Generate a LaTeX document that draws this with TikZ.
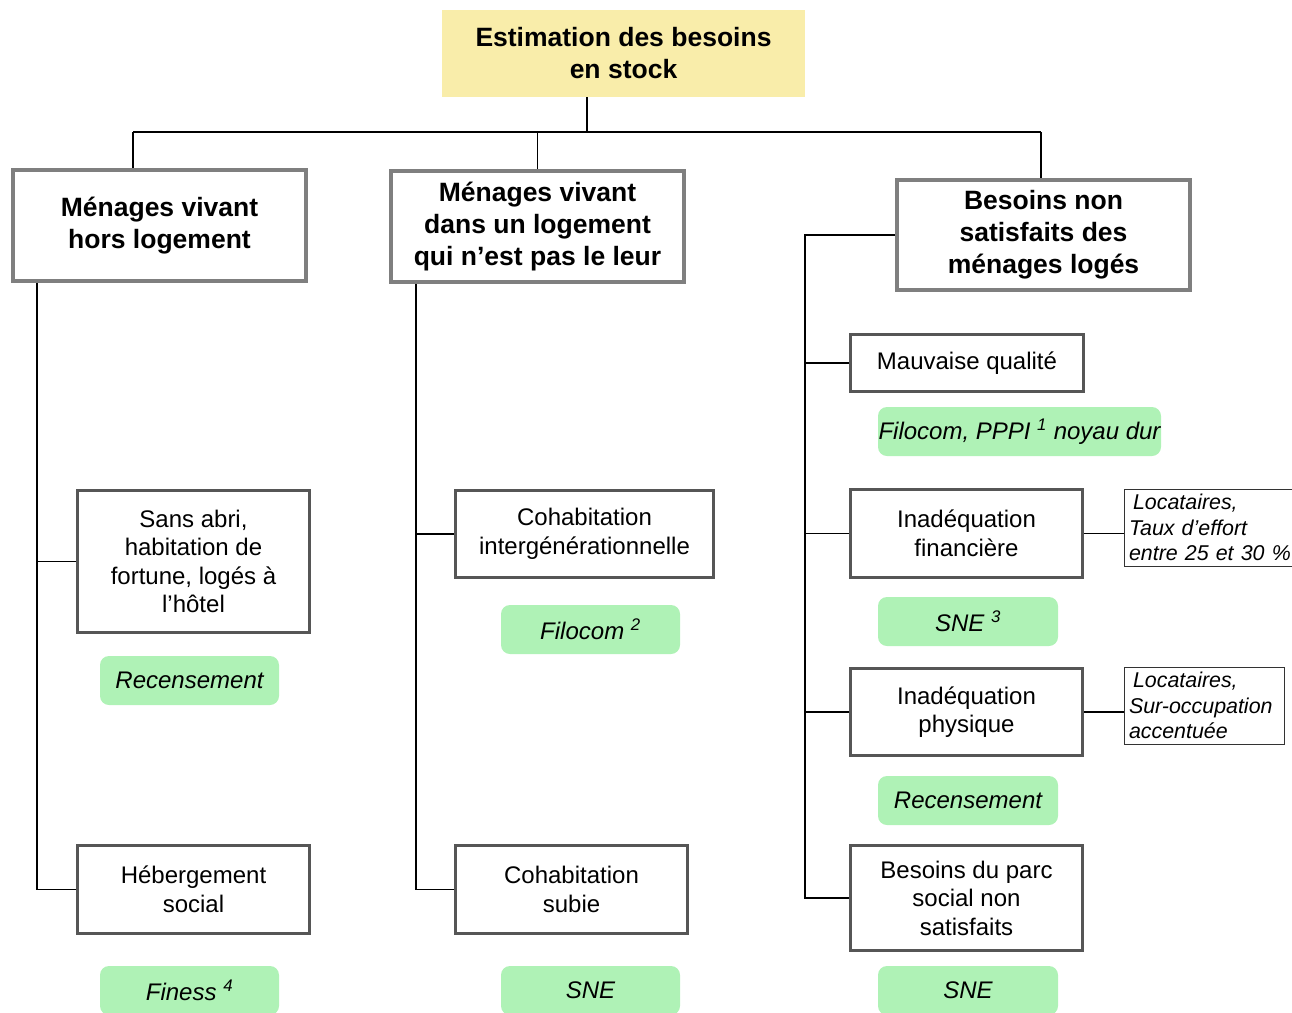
\documentclass[tikz,border=0pt]{standalone}
\usepackage{fontspec}
\setmainfont{Liberation Sans}
\definecolor{titleyellow}{HTML}{F9EDAA}
\definecolor{srcgreen}{HTML}{AFF2B6}
\definecolor{boxgray}{HTML}{7F7F7F}
\definecolor{itemgray}{HTML}{565656}
\tikzset{
  titlebox/.style={fill=titleyellow, align=center, inner sep=0pt, font=\bfseries\fontsize{26.5}{32}\selectfont},
  groupbox/.style={draw=boxgray, line width=4pt, align=center, inner sep=0pt, fill=white, font=\bfseries\fontsize{26.5}{32}\selectfont},
  itembox/.style={draw=itemgray, line width=3pt, align=center, inner sep=0pt, font=\fontsize{24}{28.5}\selectfont},
  srcbox/.style={fill=srcgreen, rounded corners=9pt, inner sep=0pt, minimum height=49pt, font=\itshape\fontsize{24}{28}\selectfont},
  notebox/.style={draw=black!80, line width=1pt, align=left, inner xsep=5pt, inner ysep=0pt, minimum height=77pt, font=\itshape\fontsize{21.4}{25.5}\selectfont},
  link/.style={line width=1.5pt}
}
\begin{document}
\begin{tikzpicture}[x=1pt, y=-1pt]
    \useasboundingbox (0,0) rectangle (1292,1012);

    % title and the three groups
    \node[titlebox, minimum width=363pt, minimum height=87pt] (title) at (623.5,53.5) {Estimation des besoins\\en stock};
    \node[groupbox, minimum width=293pt, minimum height=111pt] (hors) at (159.5,225.5) {Ménages vivant\\hors logement};
    \node[groupbox, minimum width=293pt, minimum height=111pt] (chez) at (537.5,226.5) {Ménages vivant\\dans un logement\\qui n’est pas le leur};
    \node[groupbox, minimum width=293pt, minimum height=110pt] (nonsat) at (1043.5,235) {Besoins non\\satisfaits des\\ménages logés};

    % left column
    \node[itembox, minimum width=232pt, minimum height=142pt] (sansabri) at (193.5,561.5) {Sans abri,\\habitation de\\fortune, logés à\\l’hôtel};
    \node[srcbox, minimum width=179pt] (recA) at (189.5,680.5) {Recensement};
    \node[itembox, minimum width=232pt, minimum height=88pt] (heberg) at (193.5,889.5) {Hébergement\\social};
    \node[srcbox, minimum width=179pt] (finess) at (189.5,990.5) {Finess \textsuperscript{4}};

    % middle column
    \node[itembox, minimum width=258pt, minimum height=87pt] (cohab) at (584.5,534) {Cohabitation\\intergénérationnelle};
    \node[srcbox, minimum width=179pt] (filocom) at (590.5,629.5) {Filocom \textsuperscript{2}};
    \node[itembox, minimum width=232pt, minimum height=88pt] (subie) at (571.5,889.5) {Cohabitation\\subie};
    \node[srcbox, minimum width=179pt] (sneB) at (590.5,990.5) {SNE};

    % right column
    \node[itembox, minimum width=233pt, minimum height=57pt] (mauvaise) at (967,363) {Mauvaise qualité};
    \node[srcbox, minimum width=283pt] (pppi) at (1019.5,431.5) {Filocom, PPPI \textsuperscript{1} noyau dur};
    \node[itembox, minimum width=232pt, minimum height=88pt] (financiere) at (966.5,533.5) {Inadéquation\\financière};
    \node[notebox, text width=162pt] (effort) at (1210,527.5) {\hspace{4pt}Locataires,\\Taux d’effort\\entre 25 et 30 \%};
    \node[srcbox, minimum width=180pt] (sneA) at (968,621.5) {SNE \textsuperscript{3}};
    \node[itembox, minimum width=232pt, minimum height=87pt] (physique) at (966.5,712) {Inadéquation\\physique};
    \node[notebox, text width=150pt] (suroc) at (1204,705.5) {\hspace{4pt}Locataires,\\Sur-occupation\\accentuée};
    \node[srcbox, minimum width=180pt] (recC) at (968,800.5) {Recensement};
    \node[itembox, minimum width=232pt, minimum height=105pt] (parc) at (966.5,898) {Besoins du parc\\social non\\satisfaits};
    \node[srcbox, minimum width=180pt] (sneC) at (968,990.5) {SNE};

    % connectors
    \coordinate (busL) at (133,132);
    \coordinate (busT) at (587,132);
    \coordinate (busR) at (1041,132);
    \coordinate (spineA) at (37,0);
    \coordinate (spineB) at (416,0);
    \coordinate (spineC) at (805,0);
    \draw[link] (busL) -- (busR);
    \draw[link] (busT |- title.south) -- (busT);
    \draw[link] (busL) -- (busL |- hors.north);
    \draw[link] (chez.north |- busL) -- (chez.north);
    \draw[link] (busR) -- (busR |- nonsat.north);

    \draw[link] (spineA |- hors.south) |- (heberg.west);
    \draw[link] (spineA |- sansabri.west) -- (sansabri.west);
    \draw[link] (spineB |- chez.south) |- (subie.west);
    \draw[link] (spineB |- cohab.west) -- (cohab.west);
    \draw[link] (nonsat.west) -| (spineC |- parc.west) -- (parc.west);
    \draw[link] (spineC |- mauvaise.west) -- (mauvaise.west);
    \draw[link] (spineC |- financiere.west) -- (financiere.west);
    \draw[link] (spineC |- physique.west) -- (physique.west);
    \draw[link] (financiere.east) -- (financiere.east -| effort.west);
    \draw[link] (physique.east) -- (physique.east -| suroc.west);
\end{tikzpicture}
\end{document}
